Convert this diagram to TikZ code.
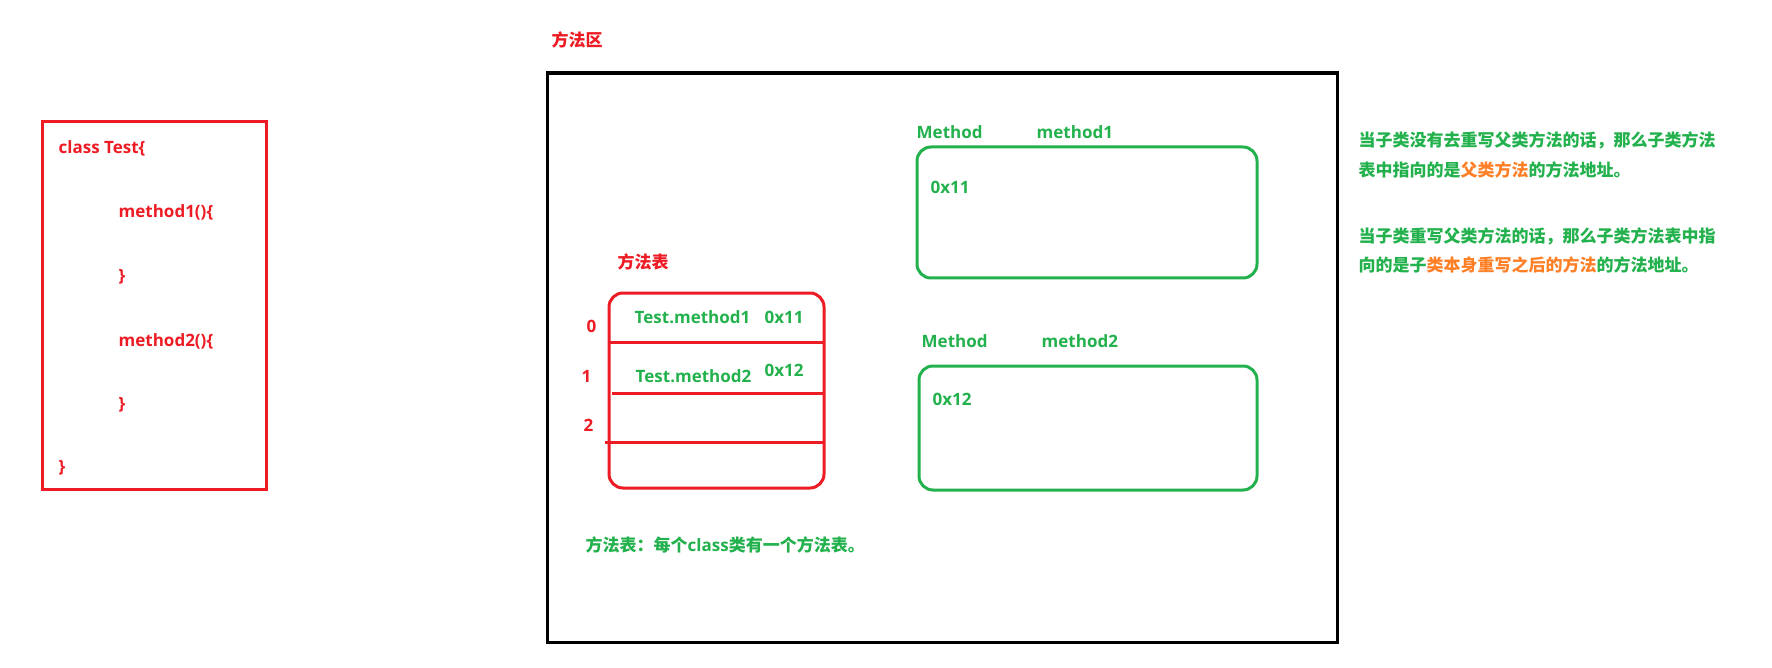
\documentclass[tikz,border=0pt]{standalone}
\usepackage{fontspec}
\setmainfont{Open Sans}
\newfontfamily\cjk{Noto Sans CJK SC}
\definecolor{pred}{HTML}{ED1C24}
\definecolor{pgreen}{HTML}{22B14C}
\definecolor{porange}{HTML}{FF7F27}
\begin{document}
\begin{tikzpicture}[x=1pt,y=-1pt,
  txt/.style={inner sep=0pt,anchor=base west,font=\fontsize{17}{20}\selectfont\bfseries},
  rtxt/.style={txt,text=pred},
  gtxt/.style={txt,text=pgreen},
  box/.style={draw,inner sep=0pt,anchor=north west},
  redbox/.style={box,draw=pred,line width=3pt},
  tablebox/.style={box,draw=pred,line width=3pt,rounded corners=14pt},
  greenbox/.style={box,draw=pgreen,line width=3pt,rounded corners=14pt},
  areabox/.style={box,draw=black,line width=3.5pt},
  rowline/.style={draw=pred,line width=3pt}]
\useasboundingbox (1.5,1.5) rectangle (1773.5,669.5);
% left class box
\node[redbox,minimum width=224pt,minimum height=367pt] (cls) at (42,122) {};
\node[rtxt] (c1) at (60,155) {class Test\{};
\node[rtxt] (c2) at (120,219) {method1()\{};
\node[rtxt] (c3) at (120,283) {\}};
\node[rtxt] (c4) at (120,348) {method2()\{};
\node[rtxt] (c5) at (120,411) {\}};
\node[rtxt] (c6) at (60,474) {\}};
% method area
\node[rtxt] (areaTitle) at (553,48) {\cjk 方法区};
\node[areabox,minimum width=790pt,minimum height=569pt] (area) at (547,73) {};
% method table
\node[rtxt] (tabTitle) at (619,270) {\cjk 方法表};
\node[tablebox,minimum width=215pt,minimum height=195pt] (tab) at (609,293) {};
\coordinate (l1a) at (609,344); \coordinate (l1b) at (824,344);
\coordinate (l2a) at (613,395); \coordinate (l2b) at (824,395);
\coordinate (l3a) at (606,444); \coordinate (l3b) at (824,444);
\draw[rowline] (l1a) -- (l1b);
\draw[rowline] (l2a) -- (l2b);
\draw[rowline] (l3a) -- (l3b);
\node[rtxt] (i0) at (588,334) {0};
\node[rtxt] (i1) at (583,384) {1};
\node[rtxt] (i2) at (585,433) {2};
\node[gtxt] (r1) at (636,325) {Test.method1};
\node[gtxt] (a1) at (766,325) {0x11};
\node[gtxt] (r2) at (637,384) {Test.method2};
\node[gtxt] (a2) at (766,378) {0x12};
\node[gtxt] (note) at (587,553) {\cjk 方法表：每个{\fontspec{Open Sans}\bfseries class}类有一个方法表。};
% method boxes
\node[gtxt] (m1a) at (918,140) {Method};
\node[gtxt] (m1b) at (1038,140) {method1};
\node[greenbox,minimum width=340pt,minimum height=131pt] (mb1) at (917,147) {};
\node[gtxt] (m1c) at (932,195) {0x11};
\node[gtxt] (m2a) at (923,349) {Method};
\node[gtxt] (m2b) at (1043,349) {method2};
\node[greenbox,minimum width=338pt,minimum height=124pt] (mb2) at (919,366) {};
\node[gtxt] (m2c) at (934,407) {0x12};
% explanation
\node[gtxt] (e1) at (1360,148) {\cjk 当子类没有去重写父类方法的话，那么子类方法};
\node[gtxt] (e2) at (1360,178) {\cjk 表中指向的是\textcolor{porange}{父类方法}的方法地址。};
\node[gtxt] (e3) at (1360,244) {\cjk 当子类重写父类方法的话，那么子类方法表中指};
\node[gtxt] (e4) at (1360,273) {\cjk 向的是子\textcolor{porange}{类本身重写之后的方法}的方法地址。};
\end{tikzpicture}
\end{document}
